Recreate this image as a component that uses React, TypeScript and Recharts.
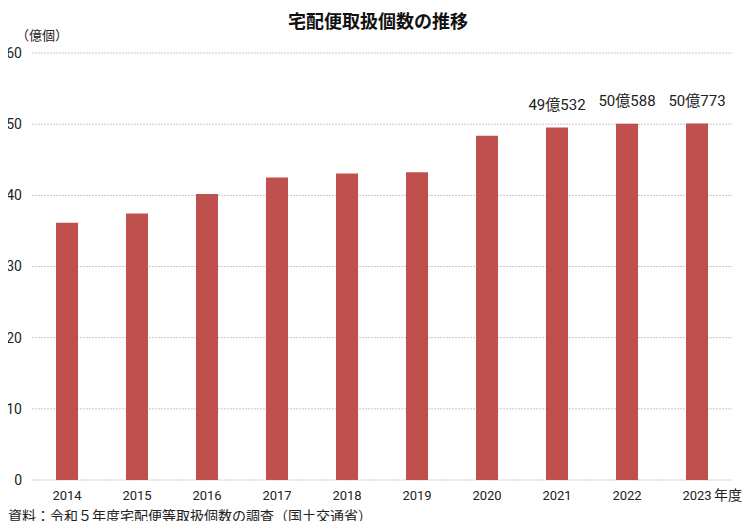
import React from "react";
import { BarChart, Bar, XAxis, YAxis, CartesianGrid, LabelList } from "recharts";

const years = ["2014", "2015", "2016", "2017", "2018", "2019", "2020", "2021", "2022", "2023"];
const parcels = [36.14, 37.45, 40.19, 42.51, 43.07, 43.23, 48.36, 49.53, 50.06, 50.08];
const barLabels = ["", "", "", "", "", "", "", "49億532", "50億588", "50億773"];
const yTicks = [0, 10, 20, 30, 40, 50, 60];

const data = years.map((y, i) => ({ year: y, value: parcels[i], label: barLabels[i] }));

const FONT = "Roboto, 'Noto Sans CJK JP', sans-serif";

const XTick = (props: any) => {
  const { x, y, payload, index } = props;
  const last = index === years.length - 1;
  return (
    <g>
      <text x={x} y={y + 12} textAnchor="middle" fontSize={13} fill="#222" fontFamily={FONT}>
        {payload.value}
      </text>
      {last && (
        <text x={x + 17} y={y + 12} textAnchor="start" fontSize={14} fill="#222" fontFamily={FONT}>
          年度
        </text>
      )}
    </g>
  );
};

const TopLabel = (props: any) => {
  const { x, y, width, value } = props;
  if (!value) return null;
  return (
    <text x={x + width / 2} y={y - 18} textAnchor="middle" fontSize={15} fill="#222" fontFamily={FONT}>
      {value}
    </text>
  );
};

export default function App() {
  return (
    <div style={{ position: "relative", width: 756, height: 529, margin: -8, background: "#fff", fontFamily: FONT, overflow: "hidden" }}>
      <div style={{ position: "absolute", top: 12, left: 0, width: 756, textAlign: "center", fontSize: 18, lineHeight: "20px", fontWeight: "bold", color: "#111" }}>
        宅配便取扱個数の推移
      </div>
      <div style={{ position: "absolute", top: 28, left: 16, fontSize: 13, lineHeight: "16px", color: "#222" }}>（億個）</div>
      <div style={{ position: "absolute", top: 508, left: 8, fontSize: 14, lineHeight: "17px", color: "#222" }}>
        資料：令和５年度宅配便等取扱個数の調査（国土交通省）
      </div>
      <BarChart
        width={756}
        height={529}
        data={data}
        margin={{ top: 53, right: 24, bottom: 0, left: 0 }}
      >
        <CartesianGrid vertical={false} stroke="#c8c8c8" strokeDasharray="2 1" />
        <XAxis
          dataKey="year"
          tick={<XTick />}
          axisLine={false}
          tickLine={false}
          interval={0}
          height={49}
        />
        <YAxis
          domain={[0, 60]}
          ticks={yTicks}
          width={32}
          axisLine={false}
          tickLine={false}
          tickSize={0}
          tickMargin={10}
          tick={{ fontSize: 14, fill: "#222", fontFamily: FONT }}
        />
        <Bar dataKey="value" fill="#c0504d" barSize={22} isAnimationActive={false}>
          <LabelList dataKey="label" content={<TopLabel />} />
        </Bar>
      </BarChart>
    </div>
  );
}
